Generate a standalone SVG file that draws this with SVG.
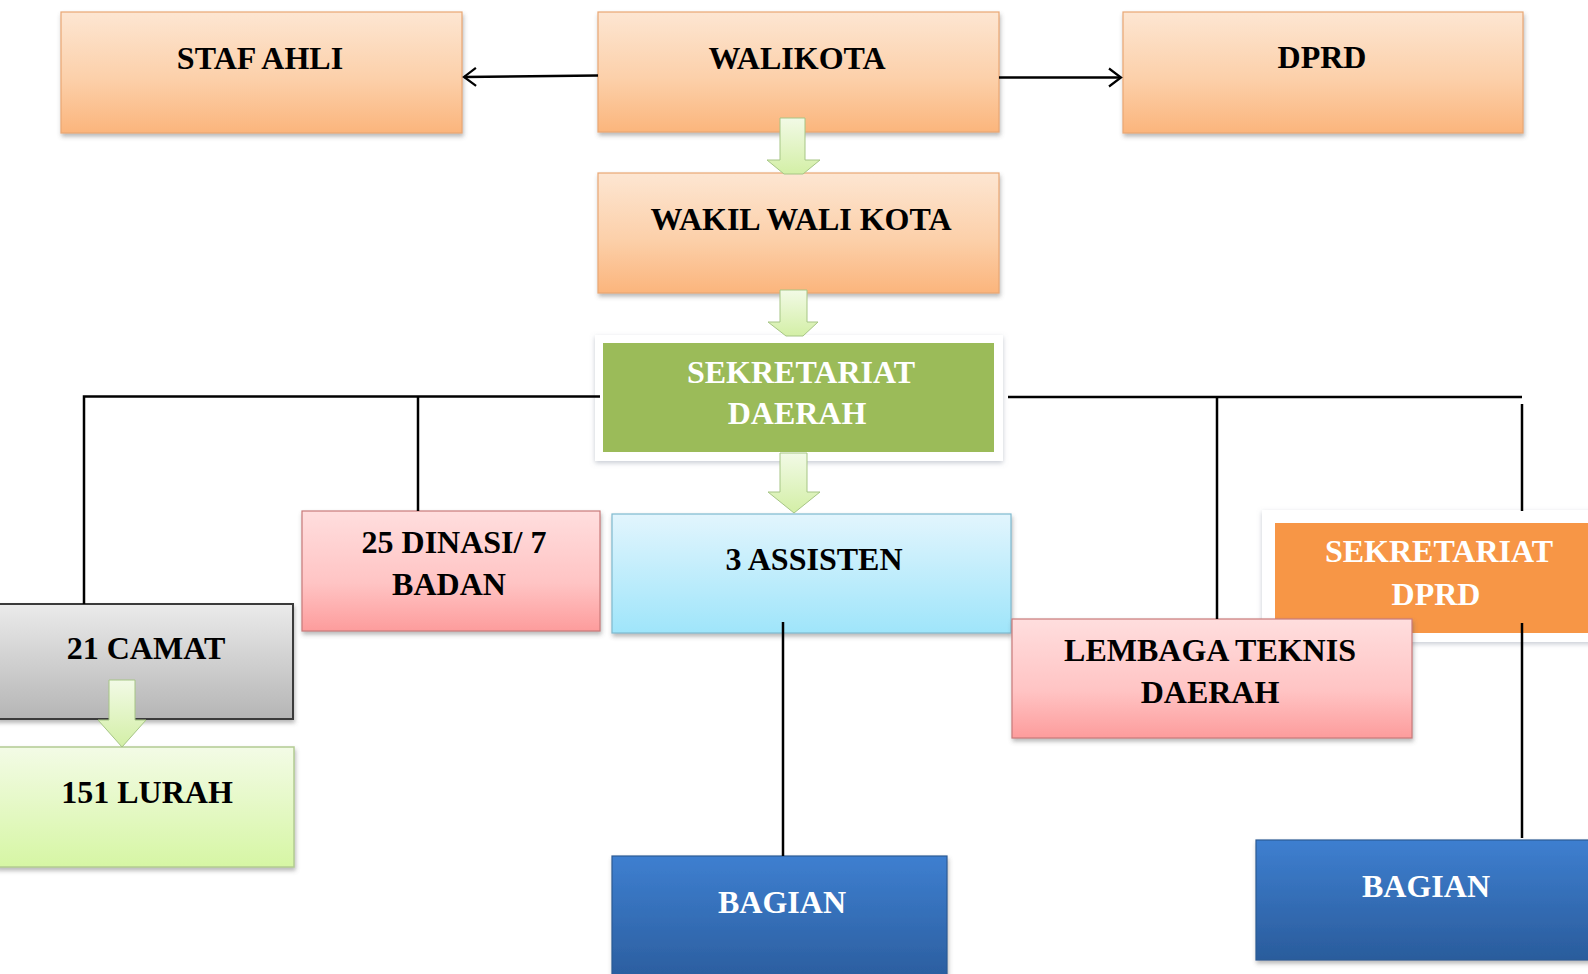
<svg xmlns="http://www.w3.org/2000/svg" width="1588" height="974" viewBox="0 0 1588 974">
<defs>
<linearGradient id="gOrange" x1="0" y1="0" x2="0" y2="1"><stop offset="0" stop-color="#fde6d2"/><stop offset="0.55" stop-color="#fcd0aa"/><stop offset="1" stop-color="#fbb57c"/></linearGradient>
<linearGradient id="gPink" x1="0" y1="0" x2="0" y2="1"><stop offset="0" stop-color="#ffdede"/><stop offset="0.6" stop-color="#ffc4c4"/><stop offset="1" stop-color="#fd9c9c"/></linearGradient>
<linearGradient id="gBlue" x1="0" y1="0" x2="0" y2="1"><stop offset="0" stop-color="#e2f5fd"/><stop offset="1" stop-color="#9fe5fa"/></linearGradient>
<linearGradient id="gGray" x1="0" y1="0" x2="0" y2="1"><stop offset="0" stop-color="#ebebeb"/><stop offset="1" stop-color="#b5b5b5"/></linearGradient>
<linearGradient id="gLime" x1="0" y1="0" x2="0" y2="1"><stop offset="0" stop-color="#f3fbe6"/><stop offset="1" stop-color="#d6f6a4"/></linearGradient>
<linearGradient id="gDark" x1="0" y1="0" x2="0" y2="1"><stop offset="0" stop-color="#3e7fd0"/><stop offset="1" stop-color="#2a5c9c"/></linearGradient>
<linearGradient id="gArrow" x1="0" y1="0" x2="0" y2="1"><stop offset="0" stop-color="#f2fae6"/><stop offset="1" stop-color="#d3efa6"/></linearGradient>
<filter id="shadow" x="-10%" y="-10%" width="120%" height="130%"><feDropShadow dx="1" dy="3" stdDeviation="2" flood-color="#606060" flood-opacity="0.45"/></filter>
<filter id="glow" x="-10%" y="-10%" width="120%" height="130%"><feDropShadow dx="0" dy="2" stdDeviation="2.5" flood-color="#9098a8" flood-opacity="0.5"/></filter>
<marker id="chev" markerUnits="userSpaceOnUse" markerWidth="20" markerHeight="24" viewBox="-14 -12 16 24" refX="0" refY="0" orient="auto"><path d="M-12,-9 L0,0 L-12,9" fill="none" stroke="#000" stroke-width="2.2"/></marker>
</defs>
<style>
.box{filter:url(#shadow);stroke-width:1.2}
.or{fill:url(#gOrange);stroke:#e9a774}
.pk{fill:url(#gPink);stroke:#c87a7a}
.bl{fill:url(#gBlue);stroke:#7fb9cf}
.gy{fill:url(#gGray);stroke:#3a3a3a;stroke-width:2}
.lm{fill:url(#gLime);stroke:#b3cb92;stroke-width:1.5}
.dk{fill:url(#gDark);stroke:#2a5a94}
.gl{fill:#ffffff;filter:url(#glow)}
.t{font-family:"Liberation Serif","Times New Roman",serif;font-weight:bold;font-size:32px;text-anchor:middle;fill:#000}
.w{fill:#ffffff}
.ln{stroke:#000;stroke-width:2.5;fill:none}
.ar{fill:url(#gArrow);stroke:#a6c585;stroke-width:1}
</style>
<rect width="1588" height="974" fill="#ffffff"/>

<g id="node-staf-ahli"><rect class="box or" x="61" y="12" width="401" height="121"/><text class="t" x="260" y="69">STAF AHLI</text></g>
<g id="node-walikota"><rect class="box or" x="598" y="12" width="401" height="120"/><text class="t" x="797" y="69">WALIKOTA</text></g>
<g id="node-dprd"><rect class="box or" x="1123" y="12" width="400" height="121"/><text class="t" x="1322" y="68">DPRD</text></g>
<g id="node-wakil"><rect class="box or" x="598" y="173" width="401" height="120"/><text class="t" x="801" y="230">WAKIL WALI KOTA</text></g>
<g id="node-sekda"><rect class="gl" x="595" y="335" width="408" height="126"/><rect x="603" y="343" width="391" height="109" fill="#9bbb59"/><text class="t w" x="801" y="383">SEKRETARIAT</text><text class="t w" x="797" y="424">DAERAH</text></g>
<g id="node-dinas"><rect class="box pk" x="302" y="511" width="298" height="120"/><text class="t" x="454" y="553">25 DINASI/ 7</text><text class="t" x="449" y="595">BADAN</text></g>
<g id="node-asisten"><rect class="box bl" x="612" y="514" width="399" height="119"/><text class="t" x="814" y="570">3 ASSISTEN</text></g>
<g id="node-camat"><rect class="box gy" x="-4" y="604" width="297" height="115"/><text class="t" x="146" y="659">21 CAMAT</text></g>
<g id="node-lurah"><rect class="box lm" x="-4" y="747" width="298" height="120"/><text class="t" x="147" y="803">151 LURAH</text></g>
<g id="node-sekdprd"><rect class="gl" x="1262" y="510" width="340" height="132"/><rect x="1275" y="523" width="320" height="110" fill="#f79646"/><text class="t w" x="1439" y="562">SEKRETARIAT</text><text class="t w" x="1436" y="605">DPRD</text></g>
<g id="node-lembaga"><rect class="box pk" x="1012" y="619" width="400" height="119"/><text class="t" x="1210" y="661">LEMBAGA TEKNIS</text><text class="t" x="1210" y="703">DAERAH</text></g>
<g id="node-bagian-1"><rect class="box dk" x="612" y="856" width="335" height="130"/><text class="t w" x="782" y="913">BAGIAN</text></g>
<g id="node-bagian-2"><rect class="box dk" x="1256" y="840" width="340" height="120"/><text class="t w" x="1426" y="897">BAGIAN</text></g>

<g id="connectors">
<path class="ln" d="M598,75.5 L464,77" marker-end="url(#chev)"/>
<path class="ln" d="M999,77.5 L1121,77.5" marker-end="url(#chev)"/>
<path class="ln" d="M600,396.5 L84,396.5 L84,604"/>
<path class="ln" d="M418,396.5 L418,511"/>
<path class="ln" d="M1008,397 L1522,397"/>
<path class="ln" d="M1217,397 L1217,619"/>
<path class="ln" d="M1522,404 L1522,511"/>
<path class="ln" d="M783,622 L783,856"/>
<path class="ln" d="M1522,623 L1522,838"/>
<polygon class="ar" points="780,118 805,118 805,160 820,160 803,174 784,174 767,160 780,160"/>
<polygon class="ar" points="780,290 807,290 807,322 818,322 803,336 786,336 768,322 780,322"/>
<polygon class="ar" points="780,453 807,453 807,492 820,492 794,513 768,492 780,492"/>
<polygon class="ar" points="109,680 135,680 135,720 146,720 122,747 98,720 109,720"/>
</g>
</svg>
